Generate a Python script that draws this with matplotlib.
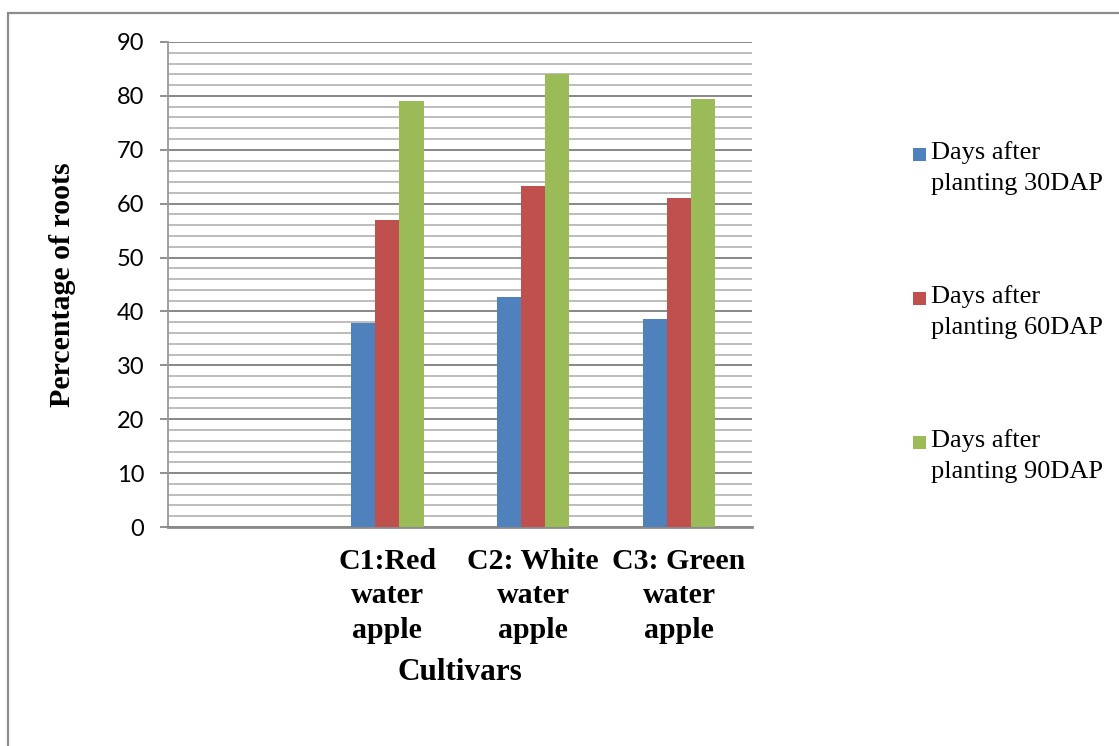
import matplotlib
matplotlib.use("Agg")
import matplotlib.pyplot as plt
import numpy as np
from matplotlib.ticker import MultipleLocator
from matplotlib.patches import Rectangle

categories = ["", "C1:Red\nwater\napple", "C2: White\nwater\napple", "C3: Green\nwater\napple"]
series_names = ["Days after\nplanting 30DAP", "Days after\nplanting 60DAP", "Days after\nplanting 90DAP"]
dap30 = [np.nan, 37.8, 42.7, 38.6]
dap60 = [np.nan, 57.0, 63.3, 61.0]
dap90 = [np.nan, 79.1, 84.0, 79.4]
colors = ["#4F81BD", "#C0504D", "#9BBB59"]
y_ticks = [0, 10, 20, 30, 40, 50, 60, 70, 80, 90]

W, H = 1119, 746
fig = plt.figure(figsize=(W / 100, H / 100), dpi=100)
ax = fig.add_axes([168 / W, 1 - 527 / H, (752 - 168) / W, (527 - 42) / H])

x = np.arange(len(categories))
bw = 1 / 6
for i, (vals, c) in enumerate(zip([dap30, dap60, dap90], colors)):
    ax.bar(x + (i - 1) * bw, vals, width=bw, color=c, edgecolor="none", zorder=3)

ax.set_xlim(-0.5, len(categories) - 0.5)
ax.set_ylim(0, 90)
ax.set_yticks(y_ticks)
ax.yaxis.set_minor_locator(MultipleLocator(2))
ax.grid(axis="y", which="major", color="#878787", linewidth=1.4, zorder=0)
ax.grid(axis="y", which="minor", color="#b8b8b8", linewidth=1.3, zorder=0)
ax.set_axisbelow(True)

for s in ["top", "right"]:
    ax.spines[s].set_visible(False)
ax.spines["left"].set_color("#999999")
ax.spines["left"].set_linewidth(1.3)
ax.spines["bottom"].set_color("#8a8a8a")
ax.spines["bottom"].set_linewidth(2)

ax.tick_params(axis="y", which="major", length=6, width=1.3, color="#878787", pad=11,
               labelsize=17, labelcolor="black")
ax.tick_params(axis="y", which="minor", length=0)
for lab in ax.get_yticklabels():
    lab.set_fontfamily("Lato")

ax.set_xticks(x)
ax.set_xticklabels(categories, fontfamily="Liberation Serif", fontweight="bold",
                   fontsize=21.5, linespacing=1.35)
ax.tick_params(axis="x", length=0, pad=15)

ax.set_ylabel("Percentage of roots", fontfamily="Liberation Serif", fontweight="bold",
              fontsize=21.5, va="center")
ax.yaxis.set_label_coords((63 - 168) / 584, 0.5)
ax.set_xlabel("Cultivars", fontfamily="Liberation Serif", fontweight="bold",
              fontsize=22.5, va="center")
ax.xaxis.set_label_coords(0.5, (527 - 673) / 485)

# legend drawn manually
leg_y = [155, 299, 443]
for name, c, yy in zip(series_names, colors, leg_y):
    fig.patches.append(Rectangle((913 / W, 1 - (yy + 6) / H), 13 / W, 13 / H,
                                 transform=fig.transFigure, facecolor=c, edgecolor="none"))
    fig.text(931 / W, 1 - (yy - 14) / H, name, fontfamily="Liberation Serif", fontsize=19,
             va="top", ha="left", linespacing=1.55)

# outer frame
fig.patches.append(Rectangle((8 / W, -0.1), 1.2, 1 - 13 / H + 0.1, transform=fig.transFigure,
                             facecolor="none", edgecolor="#8c8c8c", linewidth=1.6))

fig.savefig("out.png", dpi=100)
